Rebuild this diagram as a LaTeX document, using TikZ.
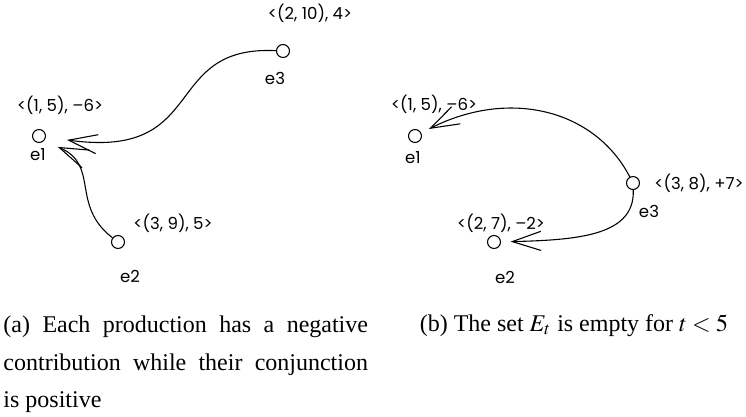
\documentclass[tikz,border=0pt]{standalone}
\usepackage{mathptmx}
\usepackage{fontspec}
\setmainfont{Liberation Serif}
\newfontfamily\lblfont{Poppins}
\usetikzlibrary{arrows.meta,positioning}

\begin{document}
\begin{tikzpicture}[
  x=0.01465cm, y=-0.01465cm,
  ev/.style={draw,circle,inner sep=0pt,minimum size=0.19cm,line width=0.45pt},
  lbl/.style={inner sep=0pt,font=\lblfont\fontsize{6.9}{8}\selectfont},
  arr/.style={-{Straight Barb[length=4.2mm,width=2.8mm]},line width=0.45pt},
  captxt/.style={inner sep=0pt,font=\fontsize{10}{15.8}\selectfont}
]
\useasboundingbox (0,0) rectangle (746,417);

% (a) left graph
\node[ev] (a1) at (39,136) {};
\node[ev] (a2) at (118,242) {};
\node[ev] (a3) at (283,51) {};
\node[lbl] (a1name) at (38,155) {e1};
\node[lbl] (a2name) at (130,276) {e2};
\node[lbl] (a3name) at (275,78) {e3};
\node[lbl] (a1val) at (60,105) {<(1, 5), –6>};
\node[lbl] (a2val) at (173,223) {<(3, 9), 5>};
\node[lbl] (a3val) at (310,13) {<(2, 10), 4>};

\draw[arr,shorten >=0.31cm] (a3) .. controls (160,45) and (210,160) .. (a1);
\draw[arr,shorten >=0.22cm] (a2) .. controls (70,205) and (100,165) .. (a1.-45);

% (b) right graph
\node[ev] (b1) at (415,136) {};
\node[ev] (b2) at (494,242) {};
\node[ev] (b3) at (633,183) {};
\node[lbl] (b1name) at (413,158) {e1};
\node[lbl] (b2name) at (505,277) {e2};
\node[lbl] (b3name) at (649,211) {e3};
\node[lbl] (b1val) at (434,104) {<(1, 5), –6>};
\node[lbl] (b2val) at (501,223) {<(2, 7), –2>};
\node[lbl] (b3val) at (699,183) {<(3, 8), +7>};

\draw[arr,shorten >=0.125cm] (b3) .. controls (595,110) and (510,88) .. (b1);
\draw[arr,shorten >=0.14cm] (b3) .. controls (635,235) and (580,240) .. (b2);

% captions
\node[captxt,anchor=north west,text width=5.34cm,align=justify] (capa) at (3,315)
  {(a) Each production has a negative contribution while their conjunction\linebreak is positive};
\node[captxt,anchor=base] (capb) at (574,331) {(b) The set $E_t$ is empty for $t<5$};
\end{tikzpicture}
\end{document}
